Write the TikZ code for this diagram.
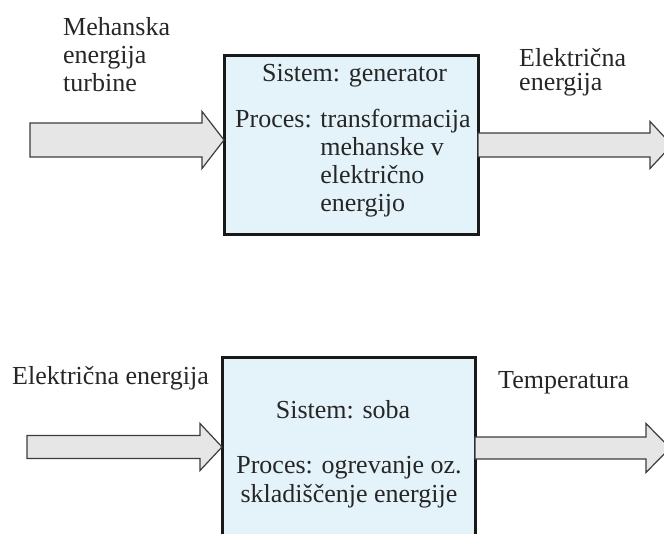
\documentclass[tikz,border=0pt]{standalone}
\usepackage{fontspec}
\setmainfont{Liberation Serif}
\usepackage{tikz}
\usetikzlibrary{calc}

\definecolor{boitebleue}{RGB}{228,243,250}
\definecolor{flechegris}{RGB}{230,230,230}
\definecolor{traitgris}{RGB}{60,60,60}

\tikzset{
  systeme/.style={draw=black!90, line width=3pt, fill=boitebleue, inner sep=0pt, outer sep=0pt},
  texte/.style={font=\fontsize{26}{28}\selectfont, inner sep=0pt, text=black!85},
  flechebloc/.style={draw=traitgris, line width=1.2pt, fill=flechegris, line join=miter}
}

% flèche large : départ, pointe, demi-largeur du corps, demi-largeur de la tête, longueur de la tête
\newcommand{\grossefleche}[5]{%
  \draw[flechebloc] ($(#1)+(0,-#3)$) -- ($(#2)+(-#5,-#3)$) -- ($(#2)+(-#5,-#4)$) -- (#2)
    -- ($(#2)+(-#5,#4)$) -- ($(#2)+(-#5,#3)$) -- ($(#1)+(0,#3)$) -- cycle;}

\begin{document}
\begin{tikzpicture}[x=1pt, y=-1pt]
    \clip (0,0) rectangle (664,534);

                % Systèmes
                \node[systeme, minimum width=254pt, minimum height=179pt] (gen) at (351,145.5) {};
                \node[systeme, minimum width=253pt, minimum height=242pt] (soba) at (348.5,479) {};

                % Textes des systèmes
                \node[texte, anchor=base] (gensis) at (354.5,82) {Sistem: generator};
                \node[texte, anchor=base west] (genpro) at (235,128)
                    {\begin{tabular}[t]{@{}l@{ }l@{}}Proces: & transformacija\\ & mehanske v\\ & električno\\ & energijo\end{tabular}};
                \node[texte, anchor=base] (sobasis) at (343,418) {Sistem: soba};
                \node[texte, anchor=base, align=center, font=\fontsize{26}{29}\selectfont] (sobapro) at (349,502)
                    {Proces: ogrevanje oz.\\skladiščenje energije};

                % Étiquettes des flux
                \node[texte, anchor=base west, align=left] (meh) at (63,92) {Mehanska\\energija\\turbine};
                \node[texte, anchor=base west, align=left, font=\fontsize{26}{24.5}\selectfont] (elgen) at (519,91) {Električna\\energija};
                \node[texte, anchor=base west] (elsoba) at (12,385) {Električna energija};
                \node[texte, anchor=base west] (temp) at (498,389) {Temperatura};

                % Flux
                \coordinate (meh-in) at (30,140);
                \coordinate (gen-in) at (gen.west |- meh-in);
                \coordinate (el-out) at (672,145);
                \coordinate (gen-out) at (gen.east |- el-out);
                \coordinate (el-in) at (27,447);
                \coordinate (soba-in) at (soba.west |- el-in);
                \coordinate (temp-out) at (670,448);
                \coordinate (soba-out) at (soba.east |- temp-out);

                \grossefleche{meh-in}{gen-in}{17}{28.5}{22}
                \grossefleche{gen-out}{el-out}{12}{23.5}{22}
                \grossefleche{el-in}{soba-in}{11.5}{23.5}{22}
                \grossefleche{soba-out}{temp-out}{11}{24.5}{24}

\end{tikzpicture}
\end{document}
